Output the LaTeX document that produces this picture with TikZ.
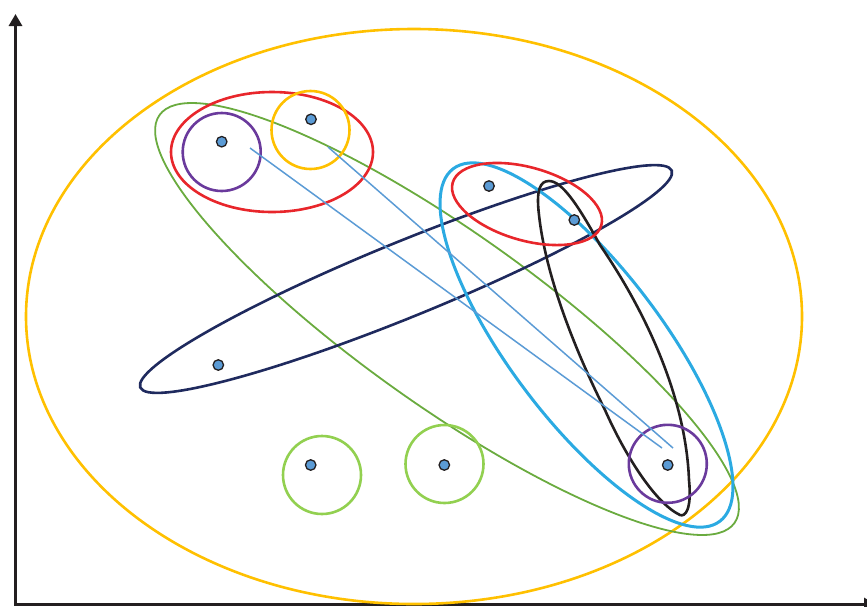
\documentclass[tikz,border=0pt]{standalone}
\usetikzlibrary{shapes.geometric,arrows.meta}
\definecolor{cOrange}{HTML}{FFC000}
\definecolor{cRed}{HTML}{E8262B}
\definecolor{cPurple}{HTML}{6A3A9C}
\definecolor{cGreen}{HTML}{6AAB3F}
\definecolor{cLGreen}{HTML}{92D050}
\definecolor{cCyan}{HTML}{2BAAE2}
\definecolor{cNavy}{HTML}{1F2A5E}
\definecolor{cBlack}{HTML}{231F20}
\definecolor{cBlue}{HTML}{5B9BD5}
\begin{document}
\begin{tikzpicture}[x=1pt,y=-1pt,
  oval/.style={ellipse,draw,inner sep=0pt,outer sep=0pt},
  ring/.style={circle,draw,inner sep=0pt,outer sep=0pt,minimum size=78pt,line width=2.6pt},
  dot/.style={circle,draw=cBlack,fill=cBlue,line width=1.3pt,inner sep=0pt,minimum size=10.5pt},
  link/.style={draw=cBlue,line width=1.5pt},
  axisline/.style={line width=3pt,draw=cBlack,{Triangle[width=13pt,length=12pt]}-{Triangle[width=13pt,length=12pt]}}]
\useasboundingbox (0,0) rectangle (867,606);
\clip (0,0) rectangle (867,606);

% axes
\coordinate (Ytip) at (15.5,14);
\coordinate (O) at (15.5,604.5);
\coordinate (Xtip) at (876,604.5);
\draw[axisline] (Ytip) -- (O) -- (Xtip);

% large sets
\node[oval,draw=cOrange,line width=2.6pt,minimum width=776pt,minimum height=575pt] (bigO) at (414,316.5) {};
\node[oval,draw=cGreen,line width=1.8pt,minimum width=705pt,minimum height=174pt,rotate=-35.35] (green) at (447,319) {};
\node[oval,draw=cNavy,line width=2.6pt,minimum width=574pt,minimum height=75pt,rotate=22.2] (navy) at (406,279) {};
\node[oval,draw=cCyan,line width=3pt,minimum width=442pt,minimum height=152pt,rotate=-52.9] (cyan) at (586.5,345) {};
% black teardrop set
\draw[cBlack,line width=2.6pt,line join=round]
  (549,181) .. controls (562,181) and (578,205) .. (600,245)
  .. controls (648,315) and (686,400) .. (689,480)
  .. controls (692,510) and (685,517) .. (680,515)
  .. controls (655,503) and (625,455) .. (605,410)
  .. controls (570,340) and (545,270) .. (539,215)
  .. controls (536,190) and (540,181) .. (549,181) -- cycle;
\node[oval,draw=cRed,line width=2.6pt,minimum width=154.6pt,minimum height=73pt,rotate=-16] (redB) at (527,204) {};
\node[oval,draw=cRed,line width=2.6pt,minimum width=202pt,minimum height=120pt] (redA) at (272,152) {};

% small circles
\node[ring,draw=cPurple] (purA) at (221.7,152) {};
\node[ring,draw=cOrange] (oraA) at (310.5,130) {};
\node[ring,draw=cPurple] (purB) at (667.8,463.8) {};
\node[ring,draw=cLGreen] (lgA) at (322,475) {};
\node[ring,draw=cLGreen] (lgB) at (444.5,464) {};

% links
\coordinate (l1s) at (250,148);
\coordinate (l1e) at (662,448);
\coordinate (l2s) at (328,147);
\coordinate (l2e) at (673,448);
\draw[link] (l1s) -- (l1e);
\draw[link] (l2s) -- (l2e);

% points
\node[dot] (d1) at (221.7,141.7) {};
\node[dot] (d2) at (311,119.3) {};
\node[dot] (d3) at (489,186) {};
\node[dot] (d4) at (574.3,220) {};
\node[dot] (d5) at (218.3,365) {};
\node[dot] (d6) at (310.7,465) {};
\node[dot] (d7) at (444.3,465) {};
\node[dot] (d8) at (667.7,465) {};
\end{tikzpicture}
\end{document}
